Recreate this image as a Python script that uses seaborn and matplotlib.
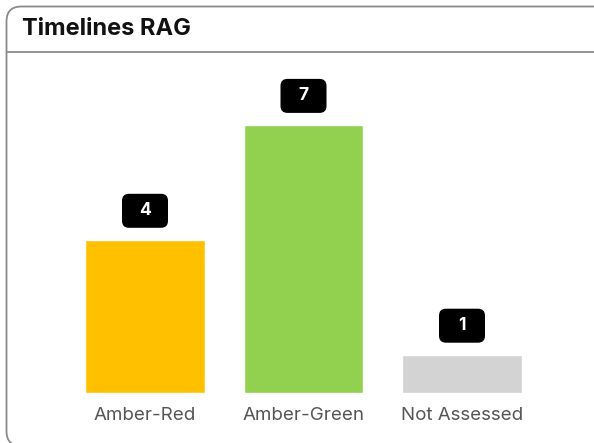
import matplotlib
matplotlib.use("Agg")
import matplotlib.pyplot as plt
from matplotlib.patches import FancyBboxPatch
from matplotlib.lines import Line2D
from matplotlib.offsetbox import DrawingArea, AnnotationBbox
from matplotlib.text import Text
import seaborn as sns
import pandas as pd

categories = ["Amber-Red", "Amber-Green", "Not Assessed"]
values = [4, 7, 1]
colors = ["#FFC000", "#92D050", "#D3D3D3"]
title = "Timelines RAG"

sns.set_theme(style="white")
plt.rcParams['font.family'] = ['Inter', 'DejaVu Sans']

W, H = 594, 443
fig = plt.figure(figsize=(W/100, H/100), dpi=100)

# card
card = FancyBboxPatch((6.5/W, -3/H), (W+20)/W, (H-6.5+3)/H,
                      boxstyle="round,pad=0,rounding_size=0.025",
                      transform=fig.transFigure, fill=False,
                      edgecolor="#8a8a8a", linewidth=1.3, clip_on=False,
                      mutation_aspect=W/H)
fig.patches.append(card)
fig.lines.append(Line2D([6.5/W, 1], [1-51.5/H, 1-51.5/H], transform=fig.transFigure,
                        color="#8a8a8a", linewidth=1.3))
fig.text(22/W, 1-29/H, title, fontsize=17, fontweight="bold",
         color="#111111", va="center", ha="left")

left, right = 65.75, 541.25
bottom, top = 393, 393 - 8*38.3
ax = fig.add_axes([left/W, 1-bottom/H, (right-left)/W, (bottom-top)/H])

df = pd.DataFrame({"cat": categories, "val": values})
sns.barplot(data=df, x="cat", y="val", hue="cat", palette=colors,
            width=0.757, ax=ax, legend=False, saturation=1)
ax.set_xlim(-0.5, 2.5)
ax.set_ylim(0, 8)
ax.set_xlabel("")
ax.set_ylabel("")
ax.set_yticks([])
for s in ax.spines.values():
    s.set_visible(False)
ax.tick_params(axis="x", length=0, pad=10, labelsize=13.5, labelcolor="#555555")

pt = 72/100  # points per pixel
bw, bh = 46*pt, 34*pt
for i, v in enumerate(values):
    da = DrawingArea(bw, bh, 0, 0)
    da.add_artist(FancyBboxPatch((0, 0), bw, bh,
                                 boxstyle="round,pad=0,rounding_size=5",
                                 fc="black", ec="none"))
    da.add_artist(Text(bw/2, bh/2, str(v), ha="center", va="center",
                       fontsize=12.5, fontweight="bold", color="white",
                       family=['Inter', 'DejaVu Sans']))
    ab = AnnotationBbox(da, (i, v), xybox=(0, 29*pt), xycoords="data",
                        boxcoords="offset points", frameon=False, pad=0,
                        box_alignment=(0.5, 0.5))
    ax.add_artist(ab)

fig.savefig("out.png", dpi=100)
